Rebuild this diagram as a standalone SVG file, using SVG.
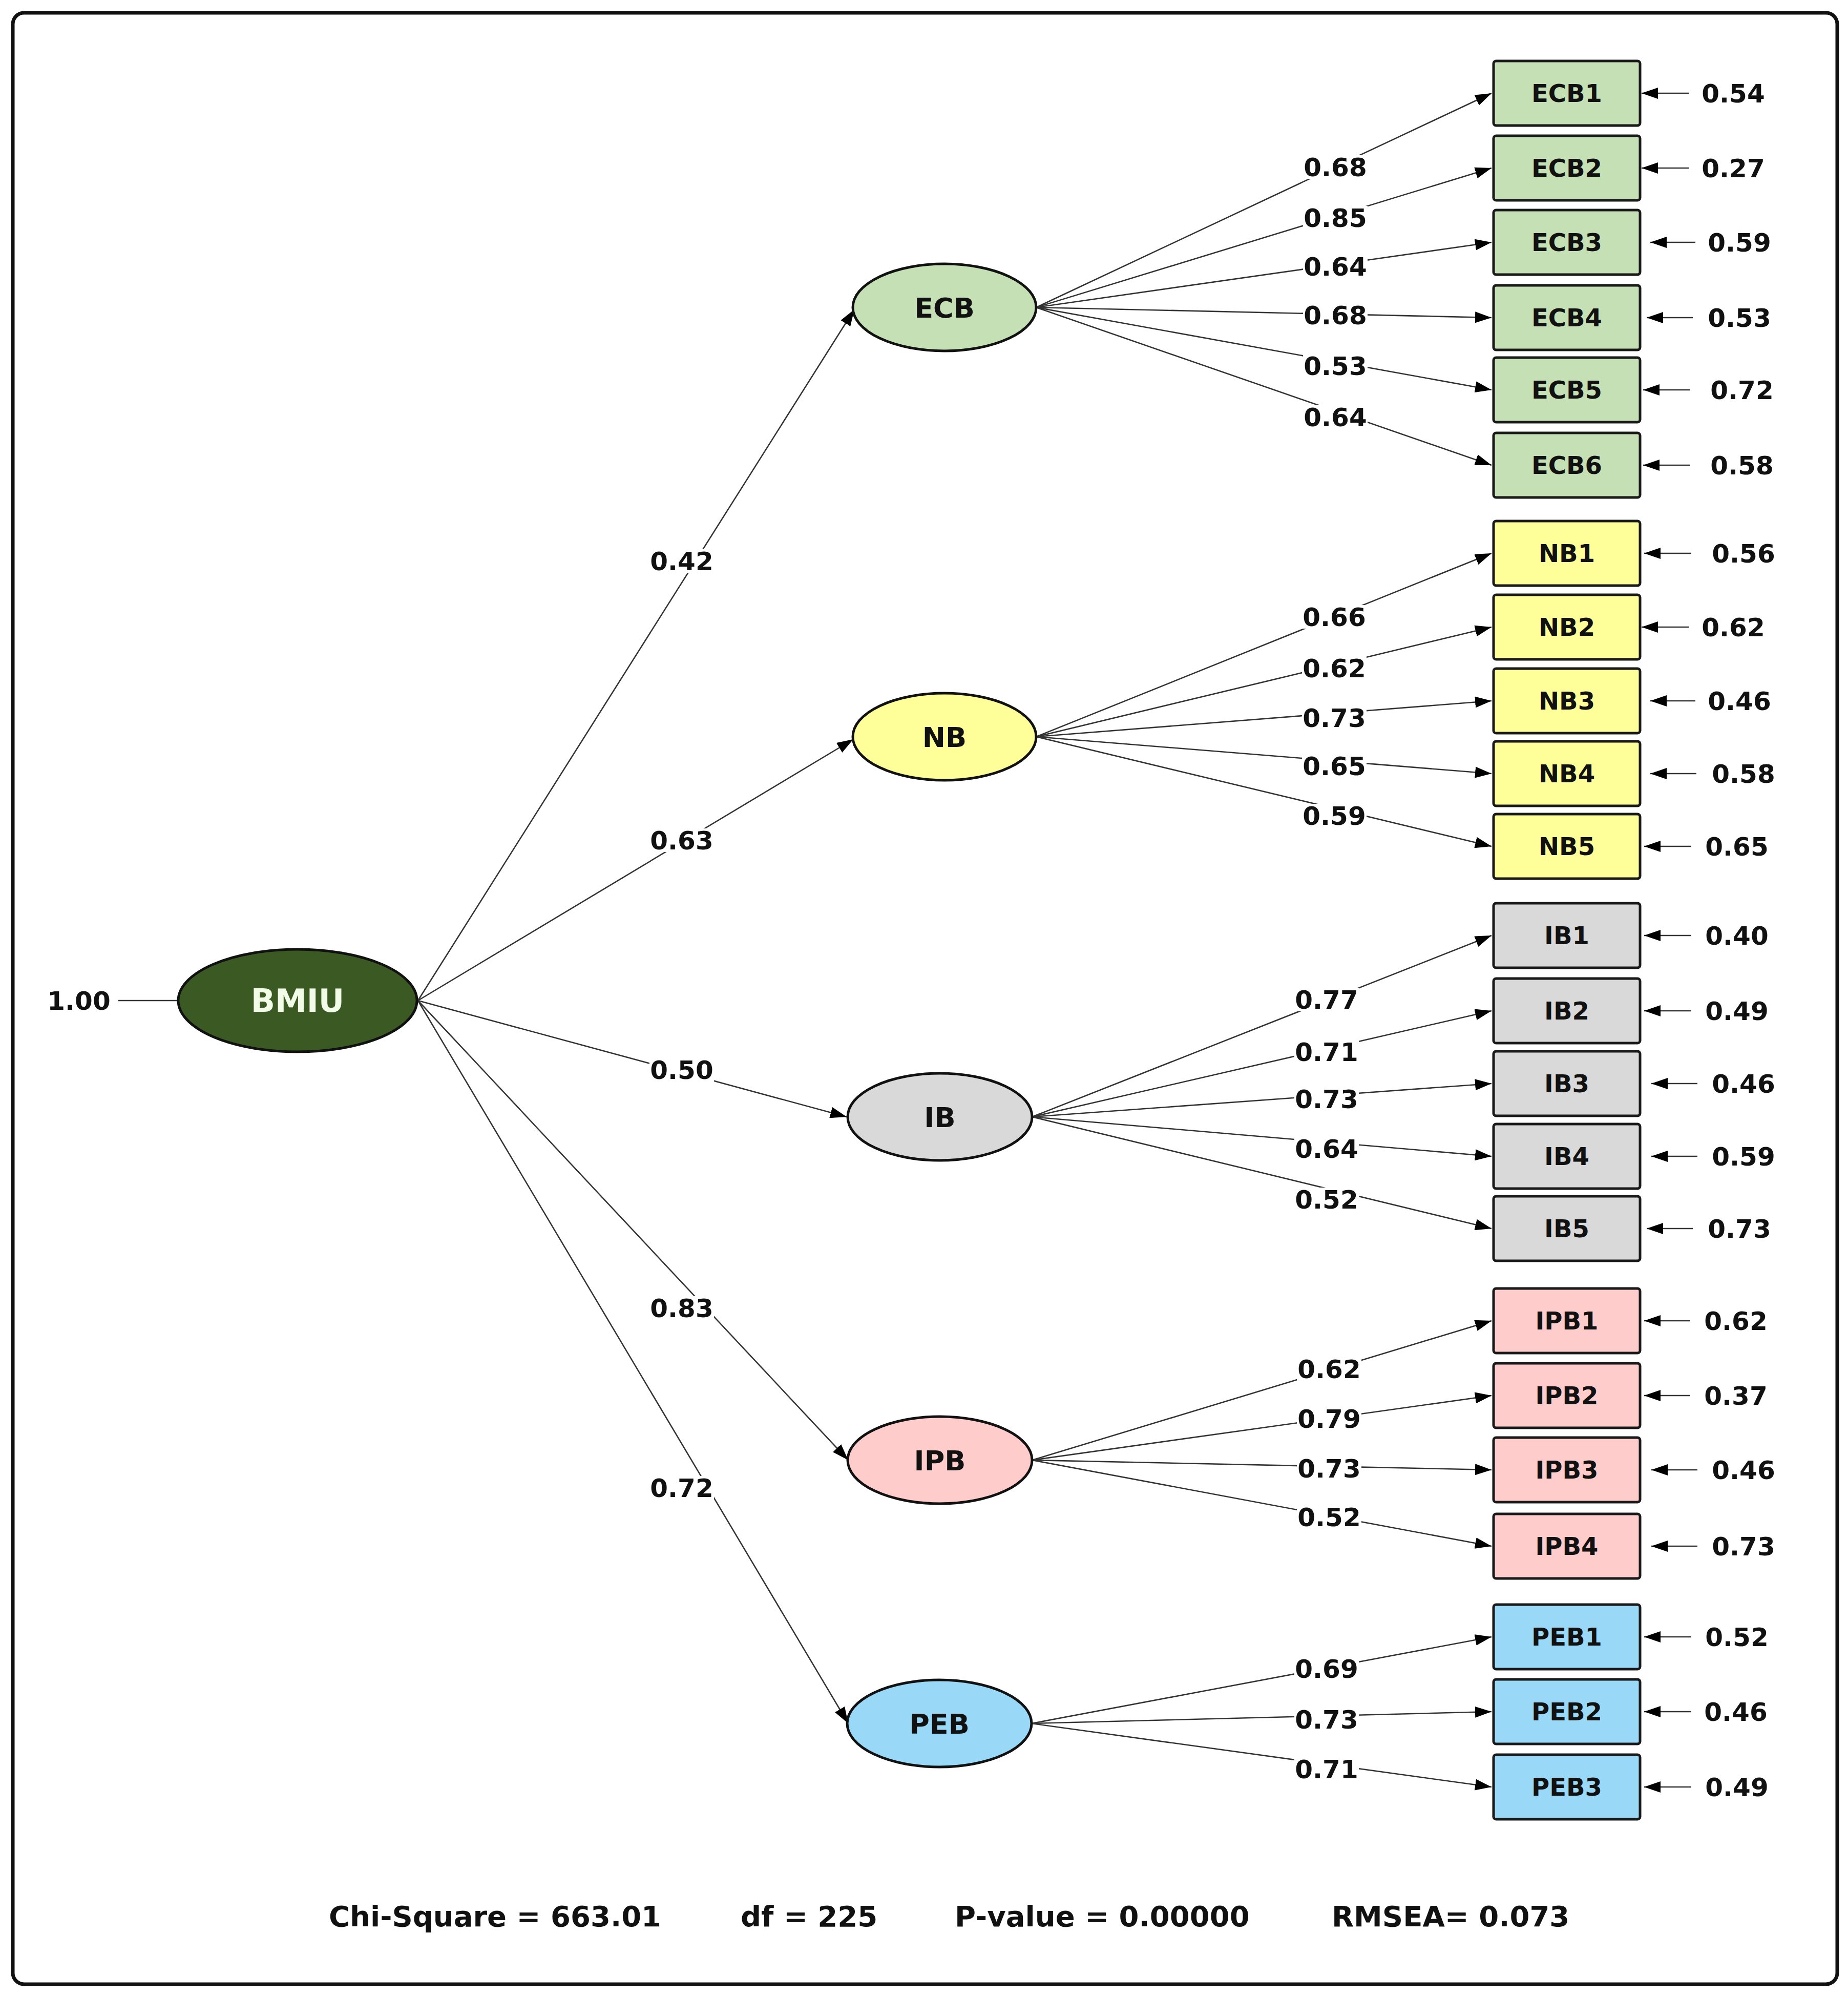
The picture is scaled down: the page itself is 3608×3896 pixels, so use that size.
<svg xmlns="http://www.w3.org/2000/svg" width="3608" height="3896" viewBox="0 0 3608 3896">
<style>
text{font-family:"DejaVu Sans","Liberation Sans",sans-serif;font-weight:bold;fill:#111;text-anchor:middle}
.num{font-size:50px}
.box{stroke:#1a1a1a;stroke-width:5}
.lat{stroke:#111;stroke-width:5}
.bl{font-size:48px}
.ll{font-size:54px}
.ln{stroke:#333;stroke-width:2.6;fill:none}
.lb{fill:#fff}
.fit{font-size:56px;text-anchor:start}
</style>
<defs>
<marker id="ah" markerUnits="userSpaceOnUse" markerWidth="32" markerHeight="22" refX="32" refY="11" orient="auto">
<path d="M0,0 L32,11 L0,22 z" fill="#000"/>
</marker>
</defs>
<rect x="0" y="0" width="3608" height="3896" fill="#fff"/>
<rect x="25" y="25" width="3562" height="3848" rx="22" fill="none" stroke="#111" stroke-width="7"/>

<g id="connectors">
<!-- 1.00 -->
<line class="ln" x1="231" y1="1953" x2="348" y2="1953"/>
<!-- BMIU to latents -->
<line class="ln" x1="816" y1="1953" x2="1668" y2="604" marker-end="url(#ah)"/>
<line class="ln" x1="816" y1="1953" x2="1666" y2="1443" marker-end="url(#ah)"/>
<line class="ln" x1="816" y1="1953" x2="1653" y2="2180" marker-end="url(#ah)"/>
<line class="ln" x1="816" y1="1953" x2="1656" y2="2850" marker-end="url(#ah)"/>
<line class="ln" x1="816" y1="1953" x2="1656" y2="3364" marker-end="url(#ah)"/>
<!-- ECB loadings -->
<line class="ln" x1="2023" y1="600" x2="2912" y2="182" marker-end="url(#ah)"/>
<line class="ln" x1="2023" y1="600" x2="2912" y2="328" marker-end="url(#ah)"/>
<line class="ln" x1="2023" y1="600" x2="2912" y2="473" marker-end="url(#ah)"/>
<line class="ln" x1="2023" y1="600" x2="2912" y2="620" marker-end="url(#ah)"/>
<line class="ln" x1="2023" y1="600" x2="2912" y2="761" marker-end="url(#ah)"/>
<line class="ln" x1="2023" y1="600" x2="2912" y2="908" marker-end="url(#ah)"/>
<!-- NB loadings -->
<line class="ln" x1="2023" y1="1438" x2="2912" y2="1080" marker-end="url(#ah)"/>
<line class="ln" x1="2023" y1="1438" x2="2912" y2="1224" marker-end="url(#ah)"/>
<line class="ln" x1="2023" y1="1438" x2="2912" y2="1368" marker-end="url(#ah)"/>
<line class="ln" x1="2023" y1="1438" x2="2912" y2="1510" marker-end="url(#ah)"/>
<line class="ln" x1="2023" y1="1438" x2="2912" y2="1652" marker-end="url(#ah)"/>
<!-- IB loadings -->
<line class="ln" x1="2015" y1="2180" x2="2912" y2="1826" marker-end="url(#ah)"/>
<line class="ln" x1="2015" y1="2180" x2="2912" y2="1973" marker-end="url(#ah)"/>
<line class="ln" x1="2015" y1="2180" x2="2912" y2="2115" marker-end="url(#ah)"/>
<line class="ln" x1="2015" y1="2180" x2="2912" y2="2257" marker-end="url(#ah)"/>
<line class="ln" x1="2015" y1="2180" x2="2912" y2="2398" marker-end="url(#ah)"/>
<!-- IPB loadings -->
<line class="ln" x1="2015" y1="2850" x2="2912" y2="2578" marker-end="url(#ah)"/>
<line class="ln" x1="2015" y1="2850" x2="2912" y2="2724" marker-end="url(#ah)"/>
<line class="ln" x1="2015" y1="2850" x2="2912" y2="2869" marker-end="url(#ah)"/>
<line class="ln" x1="2015" y1="2850" x2="2912" y2="3018" marker-end="url(#ah)"/>
<!-- PEB loadings -->
<line class="ln" x1="2014" y1="3364" x2="2912" y2="3195" marker-end="url(#ah)"/>
<line class="ln" x1="2014" y1="3364" x2="2912" y2="3341" marker-end="url(#ah)"/>
<line class="ln" x1="2014" y1="3364" x2="2912" y2="3488" marker-end="url(#ah)"/>
<!-- error arrows -->
<line class="ln" x1="3297" y1="182" x2="3205" y2="182" marker-end="url(#ah)"/>
<line class="ln" x1="3297" y1="328" x2="3205" y2="328" marker-end="url(#ah)"/>
<line class="ln" x1="3310" y1="473" x2="3222" y2="473" marker-end="url(#ah)"/>
<line class="ln" x1="3305" y1="620" x2="3215" y2="620" marker-end="url(#ah)"/>
<line class="ln" x1="3300" y1="761" x2="3208" y2="761" marker-end="url(#ah)"/>
<line class="ln" x1="3300" y1="908" x2="3208" y2="908" marker-end="url(#ah)"/>
<line class="ln" x1="3302" y1="1080" x2="3210" y2="1080" marker-end="url(#ah)"/>
<line class="ln" x1="3297" y1="1224" x2="3205" y2="1224" marker-end="url(#ah)"/>
<line class="ln" x1="3310" y1="1368" x2="3222" y2="1368" marker-end="url(#ah)"/>
<line class="ln" x1="3312" y1="1510" x2="3222" y2="1510" marker-end="url(#ah)"/>
<line class="ln" x1="3302" y1="1652" x2="3210" y2="1652" marker-end="url(#ah)"/>
<line class="ln" x1="3302" y1="1826" x2="3210" y2="1826" marker-end="url(#ah)"/>
<line class="ln" x1="3302" y1="1973" x2="3210" y2="1973" marker-end="url(#ah)"/>
<line class="ln" x1="3314" y1="2115" x2="3224" y2="2115" marker-end="url(#ah)"/>
<line class="ln" x1="3314" y1="2257" x2="3224" y2="2257" marker-end="url(#ah)"/>
<line class="ln" x1="3305" y1="2398" x2="3215" y2="2398" marker-end="url(#ah)"/>
<line class="ln" x1="3300" y1="2578" x2="3210" y2="2578" marker-end="url(#ah)"/>
<line class="ln" x1="3300" y1="2724" x2="3210" y2="2724" marker-end="url(#ah)"/>
<line class="ln" x1="3314" y1="2869" x2="3224" y2="2869" marker-end="url(#ah)"/>
<line class="ln" x1="3314" y1="3018" x2="3224" y2="3018" marker-end="url(#ah)"/>
<line class="ln" x1="3302" y1="3195" x2="3210" y2="3195" marker-end="url(#ah)"/>
<line class="ln" x1="3302" y1="3341" x2="3210" y2="3341" marker-end="url(#ah)"/>
<line class="ln" x1="3302" y1="3488" x2="3210" y2="3488" marker-end="url(#ah)"/>
</g>

<g id="edge-labels">
<text class="num" x="154" y="1971">1.00</text>
<g>
<rect class="lb" x="1268" y="1072" width="126" height="46"/><text class="num" x="1331" y="1113">0.42</text>
<rect class="lb" x="1268" y="1617" width="126" height="46"/><text class="num" x="1331" y="1658">0.63</text>
<rect class="lb" x="1268" y="2065" width="126" height="46"/><text class="num" x="1331" y="2106">0.50</text>
<rect class="lb" x="1268" y="2530" width="126" height="46"/><text class="num" x="1331" y="2571">0.83</text>
<rect class="lb" x="1268" y="2881" width="126" height="46"/><text class="num" x="1331" y="2922">0.72</text>
</g>
<g>
<rect class="lb" x="2544" y="303" width="126" height="46"/><text class="num" x="2607" y="344">0.68</text>
<rect class="lb" x="2544" y="402" width="126" height="46"/><text class="num" x="2607" y="443">0.85</text>
<rect class="lb" x="2544" y="497" width="126" height="46"/><text class="num" x="2607" y="538">0.64</text>
<rect class="lb" x="2544" y="592" width="126" height="46"/><text class="num" x="2607" y="633">0.68</text>
<rect class="lb" x="2544" y="691" width="126" height="46"/><text class="num" x="2607" y="732">0.53</text>
<rect class="lb" x="2544" y="791" width="126" height="46"/><text class="num" x="2607" y="832">0.64</text>
</g>
<g>
<rect class="lb" x="2542" y="1181" width="126" height="46"/><text class="num" x="2605" y="1222">0.66</text>
<rect class="lb" x="2542" y="1281" width="126" height="46"/><text class="num" x="2605" y="1322">0.62</text>
<rect class="lb" x="2542" y="1378" width="126" height="46"/><text class="num" x="2605" y="1419">0.73</text>
<rect class="lb" x="2542" y="1472" width="126" height="46"/><text class="num" x="2605" y="1513">0.65</text>
<rect class="lb" x="2542" y="1569" width="126" height="46"/><text class="num" x="2605" y="1610">0.59</text>
</g>
<g>
<rect class="lb" x="2527" y="1928" width="126" height="46"/><text class="num" x="2590" y="1969">0.77</text>
<rect class="lb" x="2527" y="2030" width="126" height="46"/><text class="num" x="2590" y="2071">0.71</text>
<rect class="lb" x="2527" y="2122" width="126" height="46"/><text class="num" x="2590" y="2163">0.73</text>
<rect class="lb" x="2527" y="2219" width="126" height="46"/><text class="num" x="2590" y="2260">0.64</text>
<rect class="lb" x="2527" y="2318" width="126" height="46"/><text class="num" x="2590" y="2359">0.52</text>
</g>
<g>
<rect class="lb" x="2532" y="2649" width="126" height="46"/><text class="num" x="2595" y="2690">0.62</text>
<rect class="lb" x="2532" y="2746" width="126" height="46"/><text class="num" x="2595" y="2787">0.79</text>
<rect class="lb" x="2532" y="2843" width="126" height="46"/><text class="num" x="2595" y="2884">0.73</text>
<rect class="lb" x="2532" y="2938" width="126" height="46"/><text class="num" x="2595" y="2979">0.52</text>
</g>
<g>
<rect class="lb" x="2527" y="3234" width="126" height="46"/><text class="num" x="2590" y="3275">0.69</text>
<rect class="lb" x="2527" y="3333" width="126" height="46"/><text class="num" x="2590" y="3374">0.73</text>
<rect class="lb" x="2527" y="3430" width="126" height="46"/><text class="num" x="2590" y="3471">0.71</text>
</g>
<g>
<text class="num" x="3384" y="200">0.54</text>
<text class="num" x="3384" y="346">0.27</text>
<text class="num" x="3396" y="491">0.59</text>
<text class="num" x="3396" y="638">0.53</text>
<text class="num" x="3401" y="779">0.72</text>
<text class="num" x="3401" y="926">0.58</text>
<text class="num" x="3404" y="1098">0.56</text>
<text class="num" x="3384" y="1242">0.62</text>
<text class="num" x="3396" y="1386">0.46</text>
<text class="num" x="3404" y="1528">0.58</text>
<text class="num" x="3391" y="1670">0.65</text>
<text class="num" x="3391" y="1844">0.40</text>
<text class="num" x="3391" y="1991">0.49</text>
<text class="num" x="3404" y="2133">0.46</text>
<text class="num" x="3404" y="2275">0.59</text>
<text class="num" x="3396" y="2416">0.73</text>
<text class="num" x="3389" y="2596">0.62</text>
<text class="num" x="3389" y="2742">0.37</text>
<text class="num" x="3404" y="2887">0.46</text>
<text class="num" x="3404" y="3036">0.73</text>
<text class="num" x="3391" y="3213">0.52</text>
<text class="num" x="3389" y="3359">0.46</text>
<text class="num" x="3391" y="3506">0.49</text>
</g>
</g>

<g id="BMIU"><ellipse class="lat" cx="581" cy="1953" rx="233" ry="100" fill="#3b5a23"/><text x="581" y="1975" style="font-size:62px;fill:#f2fbe8">BMIU</text></g>
<g id="ECB"><ellipse class="lat" cx="1844" cy="600" rx="179" ry="85" fill="#c5e0b4"/><text class="ll" x="1844" y="620">ECB</text></g>
<g id="NB"><ellipse class="lat" cx="1844" cy="1438" rx="179" ry="85" fill="#ffff99"/><text class="ll" x="1844" y="1458">NB</text></g>
<g id="IB"><ellipse class="lat" cx="1835" cy="2180" rx="180" ry="85" fill="#d9d9d9"/><text class="ll" x="1835" y="2200">IB</text></g>
<g id="IPB"><ellipse class="lat" cx="1835" cy="2850" rx="180" ry="85" fill="#ffcccc"/><text class="ll" x="1835" y="2870">IPB</text></g>
<g id="PEB"><ellipse class="lat" cx="1834" cy="3364" rx="180" ry="85" fill="#99d9f7"/><text class="ll" x="1834" y="3384">PEB</text></g>

<g id="ECB1"><rect class="box" x="2916" y="119" width="286" height="126" rx="5" fill="#c5e0b4"/><text class="bl" x="3059" y="199">ECB1</text></g>
<g id="ECB2"><rect class="box" x="2916" y="265" width="286" height="126" rx="5" fill="#c5e0b4"/><text class="bl" x="3059" y="345">ECB2</text></g>
<g id="ECB3"><rect class="box" x="2916" y="410" width="286" height="126" rx="5" fill="#c5e0b4"/><text class="bl" x="3059" y="490">ECB3</text></g>
<g id="ECB4"><rect class="box" x="2916" y="557" width="286" height="126" rx="5" fill="#c5e0b4"/><text class="bl" x="3059" y="637">ECB4</text></g>
<g id="ECB5"><rect class="box" x="2916" y="698" width="286" height="126" rx="5" fill="#c5e0b4"/><text class="bl" x="3059" y="778">ECB5</text></g>
<g id="ECB6"><rect class="box" x="2916" y="845" width="286" height="126" rx="5" fill="#c5e0b4"/><text class="bl" x="3059" y="925">ECB6</text></g>

<g id="NB1"><rect class="box" x="2916" y="1017" width="286" height="126" rx="5" fill="#ffff99"/><text class="bl" x="3059" y="1097">NB1</text></g>
<g id="NB2"><rect class="box" x="2916" y="1161" width="286" height="126" rx="5" fill="#ffff99"/><text class="bl" x="3059" y="1241">NB2</text></g>
<g id="NB3"><rect class="box" x="2916" y="1305" width="286" height="126" rx="5" fill="#ffff99"/><text class="bl" x="3059" y="1385">NB3</text></g>
<g id="NB4"><rect class="box" x="2916" y="1447" width="286" height="126" rx="5" fill="#ffff99"/><text class="bl" x="3059" y="1527">NB4</text></g>
<g id="NB5"><rect class="box" x="2916" y="1589" width="286" height="126" rx="5" fill="#ffff99"/><text class="bl" x="3059" y="1669">NB5</text></g>

<g id="IB1"><rect class="box" x="2916" y="1763" width="286" height="126" rx="5" fill="#d9d9d9"/><text class="bl" x="3059" y="1843">IB1</text></g>
<g id="IB2"><rect class="box" x="2916" y="1910" width="286" height="126" rx="5" fill="#d9d9d9"/><text class="bl" x="3059" y="1990">IB2</text></g>
<g id="IB3"><rect class="box" x="2916" y="2052" width="286" height="126" rx="5" fill="#d9d9d9"/><text class="bl" x="3059" y="2132">IB3</text></g>
<g id="IB4"><rect class="box" x="2916" y="2194" width="286" height="126" rx="5" fill="#d9d9d9"/><text class="bl" x="3059" y="2274">IB4</text></g>
<g id="IB5"><rect class="box" x="2916" y="2335" width="286" height="126" rx="5" fill="#d9d9d9"/><text class="bl" x="3059" y="2415">IB5</text></g>

<g id="IPB1"><rect class="box" x="2916" y="2515" width="286" height="126" rx="5" fill="#ffcccc"/><text class="bl" x="3059" y="2595">IPB1</text></g>
<g id="IPB2"><rect class="box" x="2916" y="2661" width="286" height="126" rx="5" fill="#ffcccc"/><text class="bl" x="3059" y="2741">IPB2</text></g>
<g id="IPB3"><rect class="box" x="2916" y="2806" width="286" height="126" rx="5" fill="#ffcccc"/><text class="bl" x="3059" y="2886">IPB3</text></g>
<g id="IPB4"><rect class="box" x="2916" y="2955" width="286" height="126" rx="5" fill="#ffcccc"/><text class="bl" x="3059" y="3035">IPB4</text></g>

<g id="PEB1"><rect class="box" x="2916" y="3132" width="286" height="126" rx="5" fill="#99d9f7"/><text class="bl" x="3059" y="3212">PEB1</text></g>
<g id="PEB2"><rect class="box" x="2916" y="3278" width="286" height="126" rx="5" fill="#99d9f7"/><text class="bl" x="3059" y="3358">PEB2</text></g>
<g id="PEB3"><rect class="box" x="2916" y="3425" width="286" height="126" rx="5" fill="#99d9f7"/><text class="bl" x="3059" y="3505">PEB3</text></g>

<g id="fit">
<text class="fit" x="642" y="3760">Chi-Square = 663.01</text>
<text class="fit" x="1446" y="3760">df = 225</text>
<text class="fit" x="1864" y="3760">P-value = 0.00000</text>
<text class="fit" x="2600" y="3760">RMSEA= 0.073</text>
</g>
</svg>
